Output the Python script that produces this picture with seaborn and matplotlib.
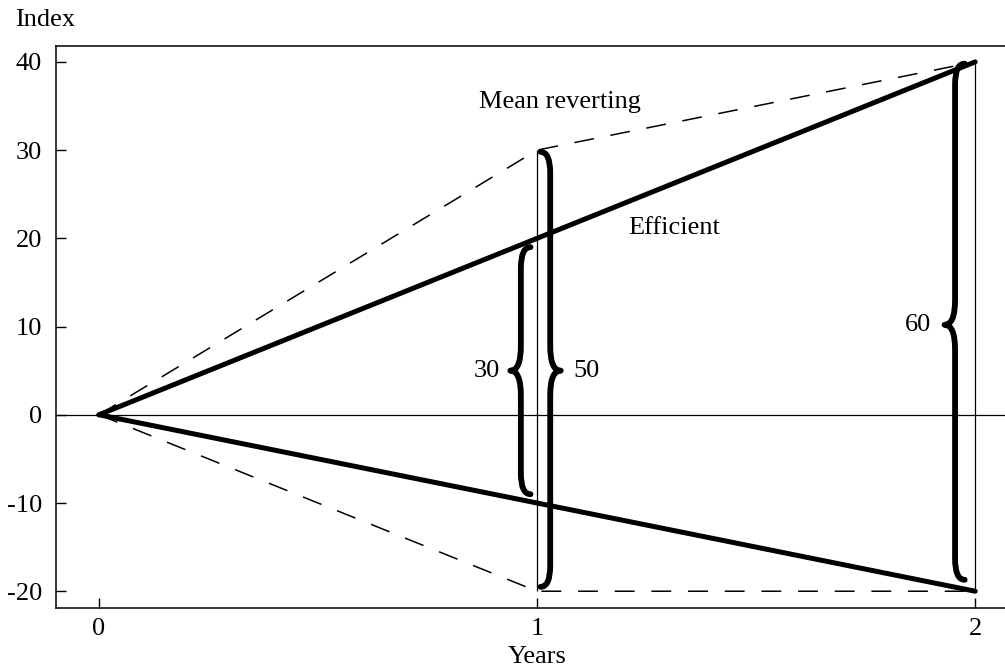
import numpy as np
import pandas as pd
import matplotlib
matplotlib.use("Agg")
import matplotlib.pyplot as plt
from matplotlib.path import Path
from matplotlib.patches import PathPatch
import seaborn as sns

# Dados
years = [0, 1, 2]
efficient_upper = [0, 20, 40]
efficient_lower = [0, -10, -20]
mean_rev_upper = [0, 30, 40]
mean_rev_lower = [0, -20, -20]

# Chaves (faixas de variação)
brace_x = [0.963, 1.030, 1.954]
brace_lo = [-9.0, -19.5, -18.7]
brace_hi = [19.0, 29.8, 39.8]
brace_mid = [5.0, 5.0, 10.2]
brace_side = ['left', 'right', 'left']
brace_labels = ['30', '50', '60']
label_x = [0.886, 1.112, 1.870]

sns.set_style("ticks")
plt.rcParams['font.family'] = ['Liberation Serif', 'DejaVu Serif']
plt.rcParams['axes.unicode_minus'] = False
plt.rcParams['text.color'] = 'black'
plt.rcParams['axes.labelcolor'] = 'black'

FS = 19

df = pd.concat([
    pd.DataFrame({'Years': years, 'Index': efficient_upper, 'serie': 'eu', 'modelo': 'Efficient'}),
    pd.DataFrame({'Years': years, 'Index': efficient_lower, 'serie': 'el', 'modelo': 'Efficient'}),
    pd.DataFrame({'Years': years, 'Index': mean_rev_upper, 'serie': 'mu', 'modelo': 'Mean reverting'}),
    pd.DataFrame({'Years': years, 'Index': mean_rev_lower, 'serie': 'ml', 'modelo': 'Mean reverting'}),
])

fig = plt.figure(figsize=(10.05, 6.70), dpi=100)
ax = fig.add_axes([56 / 1005, 1 - 608 / 670, (1005 - 56) / 1005, (608 - 46) / 670])

sns.lineplot(data=df, x='Years', y='Index', units='serie', estimator=None,
             style='modelo', dashes={'Efficient': '', 'Mean reverting': (13, 11)},
             size='modelo', sizes={'Efficient': 3.6, 'Mean reverting': 1.1},
             color='black', legend=False, ax=ax)

# Linhas verticais e horizontal
ax.vlines(years[1:], mean_rev_lower[1:], mean_rev_upper[1:], color='black', lw=0.9)
ax.axhline(0, color='black', lw=0.9)


def brace(x0, lo, hi, mid, side):
    s = -1 if side == 'left' else 1
    h, r = 0.022, 2.4
    d, r2 = 0.024, 2.8
    verts = [(x0 - s * h, hi), (x0, hi), (x0, hi - r),
             (x0, mid + r2), (x0, mid), (x0 + s * d, mid),
             (x0, mid), (x0, mid - r2),
             (x0, lo + r), (x0, lo), (x0 - s * h, lo)]
    codes = [Path.MOVETO, Path.CURVE3, Path.CURVE3,
             Path.LINETO, Path.CURVE3, Path.CURVE3,
             Path.CURVE3, Path.CURVE3,
             Path.LINETO, Path.CURVE3, Path.CURVE3]
    return PathPatch(Path(verts, codes), fill=False, lw=4.2, ec='black',
                     capstyle='round', joinstyle='round')


for x0, lo, hi, mid, side, lab, lx in zip(brace_x, brace_lo, brace_hi, brace_mid,
                                          brace_side, brace_labels, label_x):
    ax.add_patch(brace(x0, lo, hi, mid, side))
    ax.text(lx, mid, lab, ha='center', va='center', fontsize=FS)

ax.text(1.052, 35.4, 'Mean reverting', ha='center', va='center', fontsize=FS)
ax.text(1.313, 21.2, 'Efficient', ha='center', va='center', fontsize=FS)

ax.set_xlim(-0.098, 2.068)
ax.set_ylim(-21.9, 41.8)
ax.set_xticks([0, 1, 2])
ax.set_yticks([-20, -10, 0, 10, 20, 30, 40])
ax.tick_params(direction='in', length=7, width=1, labelsize=FS, colors='black')
ax.tick_params(axis='y', pad=10)
ax.tick_params(axis='x', pad=7)
for sp in ['top', 'left', 'bottom']:
    ax.spines[sp].set_linewidth(1.1)
    ax.spines[sp].set_color('black')
ax.spines['right'].set_visible(False)

ax.set_ylabel('')
ax.set_xlabel('Years', fontsize=FS)
ax.xaxis.set_label_coords(0.507, -0.068)
fig.text(15 / 1005, 1 - 20 / 670, 'Index', ha='left', va='center', fontsize=FS)

fig.savefig('out.png', dpi=100)
